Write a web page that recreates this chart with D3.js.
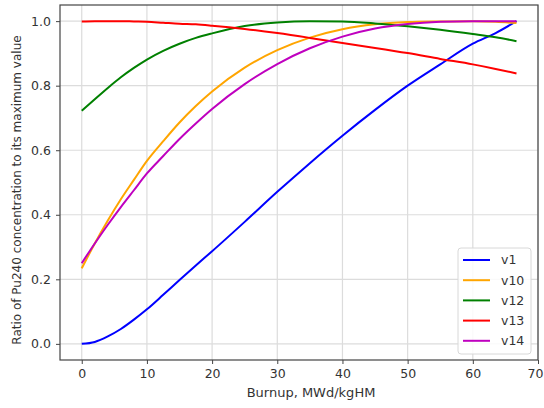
<!DOCTYPE html>
<html>
<head>
<meta charset="utf-8">
<script src="https://cdn.jsdelivr.net/npm/d3@7"></script>
<style>
    body { margin: 0; background: #fff; }
    svg { display: block; }
    .tick text { font-family: "DejaVu Sans", sans-serif; font-size: 12.5px; fill: #333; }
</style>
</head>
<body>
<svg id="chart" width="544" height="408"></svg>
<script>
// burnup steps, MWd/kgHM
const burnup = [0, 2, 4, 6, 8, 10, 12.5, 15, 17.5, 20, 25, 30, 35, 40, 45, 50, 55, 60, 63.5, 66.7];

const v1  = [0.000, 0.006, 0.023, 0.046, 0.075, 0.107, 0.152, 0.198, 0.243, 0.287, 0.378, 0.471, 0.560, 0.645, 0.725, 0.800, 0.866, 0.930, 0.963, 1.000];
const v10 = [0.234, 0.311, 0.382, 0.448, 0.508, 0.567, 0.628, 0.686, 0.737, 0.782, 0.856, 0.910, 0.949, 0.975, 0.990, 0.997, 0.999, 1.000, 0.998, 0.994];
const v12 = [0.722, 0.758, 0.793, 0.826, 0.855, 0.881, 0.908, 0.930, 0.948, 0.962, 0.985, 0.996, 1.000, 0.999, 0.993, 0.984, 0.973, 0.960, 0.950, 0.938];
const v13 = [0.999, 1.000, 1.000, 1.000, 0.999, 0.998, 0.995, 0.992, 0.990, 0.986, 0.976, 0.963, 0.948, 0.932, 0.917, 0.901, 0.883, 0.866, 0.852, 0.838];
const v14 = [0.250, 0.311, 0.369, 0.424, 0.476, 0.528, 0.582, 0.635, 0.683, 0.728, 0.805, 0.867, 0.916, 0.952, 0.977, 0.991, 0.998, 1.000, 1.000, 1.000];

const seriesNames = ["v1", "v10", "v12", "v13", "v14"];
const seriesColors = ["#0000ff", "#ffa500", "#008000", "#ff0000", "#bf00bf"];
const seriesValues = [v1, v10, v12, v13, v14];

const xTicks = [0, 10, 20, 30, 40, 50, 60, 70];
const yTicks = [0, 0.2, 0.4, 0.6, 0.8, 1.0];

const margin = {left: 60, right: 6, top: 5, bottom: 48};
const width = 544, height = 408;

const svg = d3.select("#chart");

const x = d3.scaleLinear()
    .domain([-3.335, 70])
    .range([margin.left, width - margin.right]);

const y = d3.scaleLinear()
    .domain([-0.05, 1.05])
    .range([height - margin.bottom, margin.top]);

// grid
const grid = svg.append("g");
grid.selectAll(".vgrid")
    .data(xTicks)
    .enter().append("line")
    .attr("x1", d => x(d)).attr("x2", d => x(d))
    .attr("y1", y.range()[0]).attr("y2", y.range()[1])
    .attr("stroke", "#dcdcdc")
    .attr("stroke-width", 1.2);
grid.selectAll(".hgrid")
    .data(yTicks)
    .enter().append("line")
    .attr("y1", d => y(d)).attr("y2", d => y(d))
    .attr("x1", x.range()[0]).attr("x2", x.range()[1])
    .attr("stroke", "#dcdcdc")
    .attr("stroke-width", 1.2);

// axes
const xAxis = svg.append("g")
    .attr("transform", "translate(0," + y.range()[0] + ")")
    .call(d3.axisBottom(x).tickValues(xTicks).tickSize(4).tickPadding(5).tickFormat(d3.format("d")));
const yAxis = svg.append("g")
    .attr("transform", "translate(" + x.range()[0] + ",0)")
    .call(d3.axisLeft(y).tickValues(yTicks).tickSize(4).tickPadding(5).tickFormat(d3.format(".1f")));
[xAxis, yAxis].forEach(function (a) {
    a.select(".domain").remove();
    a.selectAll(".tick line").attr("stroke", "#444");
});
// last label sits on the figure edge; nudge it inside
xAxis.selectAll(".tick text")
    .filter(d => d === 70)
    .attr("dx", -3);

// lines
const line = d3.line()
    .x((d, i) => x(burnup[i]))
    .y(d => y(d))
    .curve(d3.curveMonotoneX);

svg.append("g").selectAll("path")
    .data(seriesValues)
    .enter().append("path")
    .attr("d", line)
    .attr("fill", "none")
    .attr("stroke", (d, i) => seriesColors[i])
    .attr("stroke-width", 2);

// frame
svg.append("rect")
    .attr("x", x.range()[0])
    .attr("y", y.range()[1])
    .attr("width", x.range()[1] - x.range()[0])
    .attr("height", y.range()[0] - y.range()[1])
    .attr("fill", "none")
    .attr("stroke", "#444")
    .attr("stroke-width", 1.2);

// axis labels
svg.append("text")
    .attr("x", 311)
    .attr("y", 397)
    .attr("text-anchor", "middle")
    .style("font-family", "DejaVu Sans, sans-serif")
    .style("font-size", "13px")
    .style("fill", "#333")
    .text("Burnup, MWd/kgHM");

svg.append("text")
    .attr("transform", "translate(21," + 190 + ") rotate(-90)")
    .attr("text-anchor", "middle")
    .style("font-family", "DejaVu Sans, sans-serif")
    .style("font-size", "12px")
    .style("fill", "#333")
    .text("Ratio of Pu240 concentration to its maximum value");

// legend
const legend = svg.append("g");
legend.append("rect")
    .attr("x", 458).attr("y", 248)
    .attr("width", 73).attr("height", 106)
    .attr("rx", 3)
    .attr("fill", "#fff")
    .attr("fill-opacity", 0.85)
    .attr("stroke", "#d8d8d8");
const items = legend.selectAll(".item")
    .data(seriesNames)
    .enter().append("g")
    .attr("transform", (d, i) => "translate(0," + (260 + i * 20.2) + ")");
items.append("line")
    .attr("x1", 463).attr("x2", 490)
    .attr("stroke", (d, i) => seriesColors[i])
    .attr("stroke-width", 2);
items.append("text")
    .attr("x", 501)
    .attr("dy", "0.35em")
    .style("font-family", "DejaVu Sans, sans-serif")
    .style("font-size", "12.5px")
    .style("fill", "#333")
    .text(d => d);
</script>
</body>
</html>
